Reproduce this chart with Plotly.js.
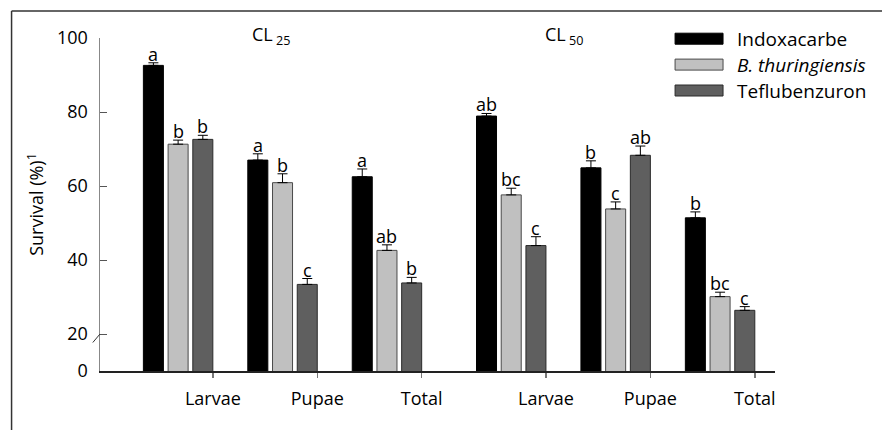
<!DOCTYPE html>
<html>
<head>
<meta charset="utf-8">
<script src="https://cdn.plot.ly/plotly-3.0.1.min.js"></script>
<style>html,body{margin:0;padding:0;background:#fff;}#chart{width:882px;height:430px;}</style>
</head>
<body>
<div id="chart"></div>
<script>
// ---- data ----
const stages = ["Larvae", "Pupae", "Total", "Larvae", "Pupae", "Total"];
const concentrations = ["CL25", "CL25", "CL25", "CL50", "CL50", "CL50"];
const seriesNames = ["Indoxacarbe", "<i>B. thuringiensis</i>", "Teflubenzuron"];
const indoxacarbe = [92.6, 67.0, 62.5, 78.9, 64.9, 51.4];
const indoxacarbeErr = [0.7, 1.7, 2.1, 0.7, 1.9, 1.6];
const thuringiensis = [71.3, 60.9, 42.6, 57.6, 53.8, 30.1];
const thuringiensisErr = [1.1, 2.4, 1.5, 1.8, 1.9, 1.2];
const teflubenzuron = [72.6, 33.4, 33.8, 43.9, 68.3, 26.4];
const teflubenzuronErr = [1.1, 1.6, 1.5, 2.4, 2.5, 1.0];
const indoxacarbeLetters = ["a", "a", "a", "ab", "b", "b"];
const thuringiensisLetters = ["b", "b", "ab", "bc", "c", "bc"];
const teflubenzuronLetters = ["b", "c", "b", "c", "ab", "c"];
const yTickVals = [10, 20, 40, 60, 80, 100];
const yTickText = ["0", "20", "40", "60", "80", "100"];

// ---- styles ----
const fills = ["#000000", "#c0c0c0", "#5f5f5f"];
const outlines = ["#000000", "#4a4a4a", "#2a2a2a"];
const FONT = "Open Sans, Noto Sans, sans-serif";
const bargap = 0.29, bargroupgap = 0.19;

// group positions (extra gap between the two concentrations)
const xpos = stages.map((s, i) => i + (concentrations[i] === "CL50" ? 0.19 : 0));
const slot = (1 - bargap) / 3;
const tickPos = xpos.map(x => x + (1 - bargap) / 2 - slot * bargroupgap / 2);

const vals = [indoxacarbe, thuringiensis, teflubenzuron];
const errs = [indoxacarbeErr, thuringiensisErr, teflubenzuronErr];
const lets = [indoxacarbeLetters, thuringiensisLetters, teflubenzuronLetters];

const traces = [];
vals.forEach((v, k) => {
  traces.push({
    type: "bar", x: xpos, y: v, name: seriesNames[k], offsetgroup: String(k),
    marker: {color: fills[k], line: {color: outlines[k], width: 1}},
    error_y: {type: "data", symmetric: false, array: errs[k], arrayminus: v.map(() => 0),
              color: "#000", thickness: 1, width: 5},
    showlegend: false, hovertemplate: "%{y}<extra></extra>"
  });
});

const plotL = 99.5, plotR = 775, plotT = 38, plotB = 371;
const px = p => (p - plotL) / (plotR - plotL);
const py = p => (plotB - p) / (plotB - plotT);
const shapes = [], annotations = [];

// significance letters above the error bars
vals.forEach((v, k) => {
  v.forEach((d, i) => {
    annotations.push({xref: "x", yref: "y", x: xpos[i] + (k - 1) * slot, y: d + errs[k][i],
      xanchor: "center", yanchor: "bottom", yshift: -5, text: lets[k][i], showarrow: false,
      font: {family: FONT, size: 18, color: "#000"}});
  });
});

// legend drawn as shapes + annotations
seriesNames.forEach((n, k) => {
  const cy = 38.7 + k * 25.9;
  shapes.push({type: "rect", xref: "paper", yref: "paper",
    x0: px(675), x1: px(723), y0: py(cy + 5.5), y1: py(cy - 5.5),
    fillcolor: fills[k], line: {color: outlines[k], width: 1}});
  annotations.push({xref: "paper", yref: "paper", x: px(735), y: py(cy), xanchor: "left", yanchor: "middle",
    text: n, showarrow: false, font: {family: FONT, size: 19, color: "#000"}});
});
// concentration headers
annotations.push({xref: "paper", yref: "paper", x: px(271), y: py(35), xanchor: "center", yanchor: "middle",
  text: "CL<sub> 25</sub>", showarrow: false, font: {family: FONT, size: 18, color: "#000"}});
annotations.push({xref: "paper", yref: "paper", x: px(564), y: py(35), xanchor: "center", yanchor: "middle",
  text: "CL<sub> 50</sub>", showarrow: false, font: {family: FONT, size: 18, color: "#000"}});
// frame (top and left)
shapes.push({type: "line", xref: "paper", yref: "paper", x0: px(11), x1: px(900), y0: py(11), y1: py(11), line: {color: "#333", width: 1.5}});
shapes.push({type: "line", xref: "paper", yref: "paper", x0: px(11), x1: px(11), y0: py(11), y1: py(440), line: {color: "#333", width: 1.5}});
// axis break mark
shapes.push({type: "line", xref: "paper", yref: "y", x0: px(92.3), x1: px(99.5), y0: 17.7, y1: 20, line: {color: "#333", width: 1}});

const layout = {
  width: 882, height: 430,
  margin: {l: plotL, r: 882 - plotR, t: plotT, b: 430 - plotB},
  paper_bgcolor: "#fff", plot_bgcolor: "#fff",
  barmode: "group", bargap: bargap, bargroupgap: bargroupgap,
  font: {family: FONT, size: 16, color: "#000"},
  xaxis: {
    range: [-0.748, 5.716], tickmode: "array", tickvals: tickPos, ticktext: stages,
    showgrid: false, zeroline: false, showline: true, linecolor: "#222", linewidth: 1.5,
    ticks: "outside", ticklen: 5, tickcolor: "#777", tickwidth: 1.5,
    ticklabelstandoff: 6, tickfont: {family: FONT, size: 18, color: "#000"}, fixedrange: true
  },
  yaxis: {
    range: [10, 100], tickmode: "array", tickvals: yTickVals, ticktext: yTickText,
    showgrid: false, zeroline: false, showline: true, linecolor: "#888", linewidth: 1.5,
    ticks: "inside", ticklen: 7, tickcolor: "#555", tickwidth: 1,
    ticklabelstandoff: 7, tickfont: {family: FONT, size: 18, color: "#000"},
    title: {text: "Survival (%)<sup>1</sup>", font: {family: FONT, size: 18, color: "#000"}, standoff: 8},
    fixedrange: true
  },
  shapes: shapes, annotations: annotations, showlegend: false
};
Plotly.newPlot("chart", traces, layout, {displayModeBar: false, staticPlot: true});
</script>
</body>
</html>
